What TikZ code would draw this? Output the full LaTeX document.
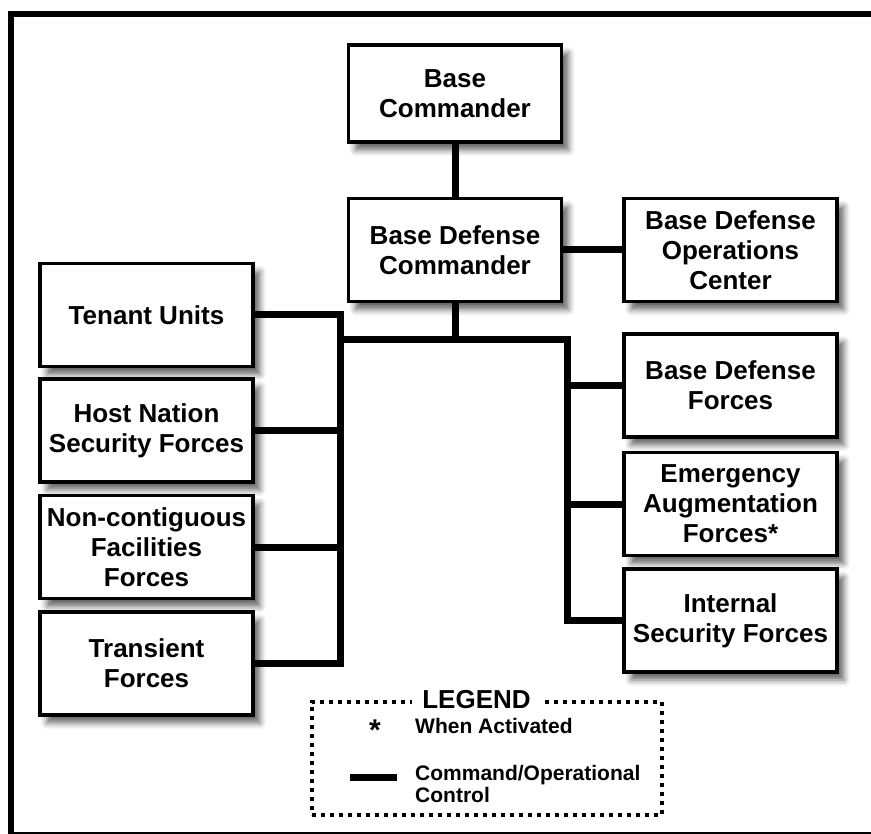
\documentclass[tikz,border=0pt]{standalone}
\usepackage{fontspec}
\setmainfont{Liberation Sans}
\usepackage{tikz}
\usetikzlibrary{positioning}
\usetikzlibrary{shadows.blur}

\begin{document}
\begin{tikzpicture}[x=1pt, y=-1pt,
			unit/.style = {
				draw, line width=3.5pt, fill=white, align=center,
				minimum width=213pt, minimum height=103pt, inner sep=2pt,
				font=\fontsize{26}{30}\selectfont\bfseries,
				blur shadow={shadow xshift=7pt, shadow yshift=-8pt,
					shadow blur radius=6pt, shadow opacity=60}
			},
			link/.style = {line width=7pt},
			legendbox/.style = {
				draw, line width=4pt, dash pattern=on 4pt off 5pt
			},
			keytext/.style = {
				inner sep=0pt, font=\fontsize{21}{22}\selectfont\bfseries
			}]
			\useasboundingbox (0,0) rectangle (871,834);
			% frame
			\draw [line width=6pt] (871,14) -- (11,14) -- (11,834);
			\draw [line width=1.5pt] (11,833) -- (871,833);
			% command line
			\node (bc) at (455,93.5) [unit, minimum height=97pt] {Base\\Commander};
			\node (bdc) [unit, below=53pt of bc] {Base Defense\\Commander};
			\node (bdoc) [unit, right=59pt of bdc] {Base Defense\\Operations\\Center};
			% right column
			\node (bdf) at (730.5,385.5) [unit] {Base Defense\\Forces};
			\node (eaf) [unit, below=12pt of bdf] {Emergency\\Augmentation\\Forces*};
			\node (isf) [unit, below=10pt of eaf] {Internal\\Security Forces};
			% left column
			\node (tu) at (146.5,315) [unit] {Tenant Units};
			\node (hn) [unit, below=9pt of tu] {Host Nation\\Security Forces};
			\node (nc) [unit, below=10pt of hn] {Non-contiguous\\Facilities\\Forces};
			\node (tf) [unit, below=10pt of nc] {Transient\\Forces};
			\coordinate (lbus) at (340,340);
			\coordinate (rbus) at (567,340);
			\draw [link] (bc) -- (bdc);
			\draw [link] (bdc) -- (bdoc);
			\draw [link] (bdc.south) -- (bdc.south |- lbus);
			\draw [link] (tu.east) -| (lbus |- tf.east) -- (tf.east);
			\draw [link] (lbus) -- (rbus) -- (rbus |- isf.west) -- (isf.west);
			\draw [link] (hn.east) -- (hn.east -| lbus);
			\draw [link] (nc.east) -- (nc.east -| lbus);
			\draw [link] (bdf.west) -- (bdf.west -| rbus);
			\draw [link] (eaf.west) -- (eaf.west -| rbus);
			% legend
			\node (legend) [legendbox, minimum width=350pt, minimum height=113.5pt] at (486.5,758.25) {};
			\node (legtitle) [fill=white, inner xsep=10pt, inner ysep=2pt, xshift=-10pt,
				font=\fontsize{26}{30}\selectfont\bfseries] at (legend.north) {LEGEND};
			\node (star) [keytext, anchor=base, font=\fontsize{30}{30}\selectfont\bfseries] at (375,740) {*};
			\node (whenact) [keytext, anchor=base west] at (415,733) {When Activated};
			\coordinate (keya) at (350,777);
			\coordinate (keyb) at (397,777);
			\draw [link] (keya) -- (keyb);
			\node (cmdctl) [keytext, anchor=north west, align=left] at (415,765) {Command/Operational\\Control};
		\end{tikzpicture}
\end{document}
